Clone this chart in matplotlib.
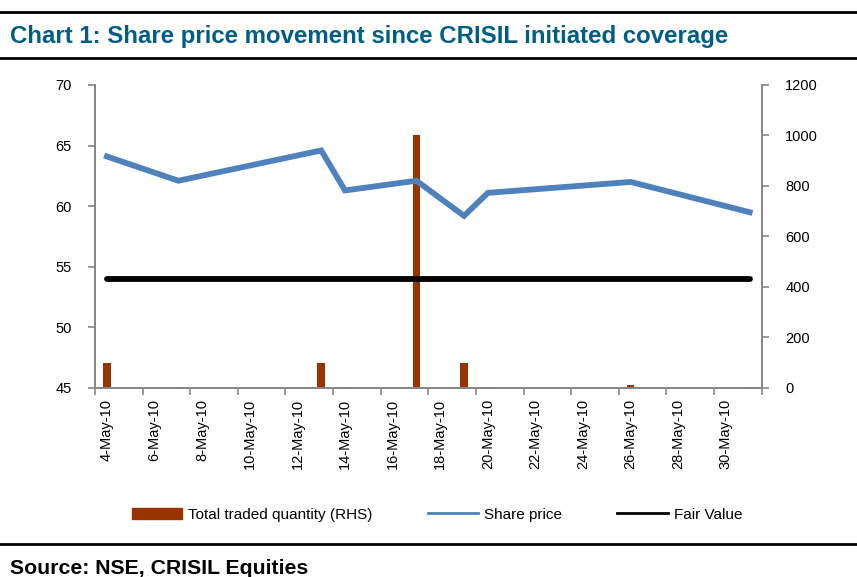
import matplotlib
matplotlib.use('Agg')
import matplotlib.pyplot as plt
from matplotlib.lines import Line2D

plt.rcParams['font.family'] = ['Liberation Sans', 'DejaVu Sans']

# days of May 2010 shown on the axis
first_day = 4
last_day = 31
tick_days = list(range(4, 31, 2))

# trading days with data
trade_days = [4, 7, 13, 14, 17, 19, 20, 26, 31]
share_price = [64.1, 62.1, 64.6, 61.3, 62.1, 59.2, 61.1, 62.0, 59.5]
traded_qty = [100, 2, 100, 2, 1000, 100, 2, 10, 2]
fair_value = 54

grey = '#868686'

fig = plt.figure(figsize=(8.57, 5.77), dpi=100)
ax = fig.add_axes([0.1109, 0.3276, 0.7778, 0.5251])
ax2 = ax.twinx()

x = [d - first_day for d in trade_days]
ax2.bar(x, traded_qty, width=0.32, color='#993300', zorder=1)
ax.plot(x, share_price, color='#4F81BD', lw=4.2, solid_joinstyle='miter', zorder=3)
ax.plot([x[0], x[-1]], [fair_value, fair_value], color='black', lw=4.2,
        solid_capstyle='round', zorder=3)
ax.set_zorder(ax2.get_zorder() + 1)
ax.patch.set_visible(False)

n = last_day - first_day + 1
ax.set_xlim(-0.5, n - 0.5)
ax.set_ylim(45, 70)
ax.set_yticks(range(45, 71, 5))
ax2.set_ylim(0, 1200)
ax2.set_yticks(range(0, 1201, 200))

ax.set_xticks([d - first_day for d in tick_days])
ax.set_xticklabels(['%d-May-10' % d for d in tick_days], rotation=90)
ax.set_xticks([i - 0.5 for i in range(0, n + 1, 2)], minor=True)
ax.tick_params(axis='x', which='major', length=0, pad=8)
ax.tick_params(axis='x', which='minor', length=5, color=grey, direction='out', width=1.2)

for a in (ax, ax2):
    a.spines['top'].set_visible(False)
    for s in ('left', 'right', 'bottom'):
        a.spines[s].set_color(grey)
        a.spines[s].set_linewidth(1.3)
    a.tick_params(axis='y', length=5, color=grey, width=1.2, labelsize=10.5, pad=12)
ax.tick_params(axis='x', labelsize=10.5)

handles = [
    plt.Rectangle((0, 0), 1, 1, color='#993300'),
    Line2D([], [], color='#4F81BD', lw=2),
    Line2D([], [], color='black', lw=2),
]
fig.legend(handles, ['Total traded quantity (RHS)', 'Share price', 'Fair Value'],
           loc='center', bbox_to_anchor=(0.51, 0.108), ncol=3, frameon=False,
           fontsize=11, handlelength=3.3, handleheight=0.8, handletextpad=0.4,
           columnspacing=3.6)

# header / footer rules and texts
for yy in (1 - 12 / 577, 1 - 58 / 577, 1 - 544 / 577):
    fig.add_artist(Line2D([0, 1], [yy, yy], color='black', lw=2, transform=fig.transFigure))
fig.text(10 / 857, 1 - 36 / 577, 'Chart 1: Share price movement since CRISIL initiated coverage',
         color='#005E85', fontsize=17.3, fontweight='bold', va='center', ha='left')
fig.text(10 / 857, 1 - 568 / 577, 'Source: NSE, CRISIL Equities',
         color='black', fontsize=15.3, fontweight='bold', va='center', ha='left')

fig.savefig('out.png', dpi=100)
